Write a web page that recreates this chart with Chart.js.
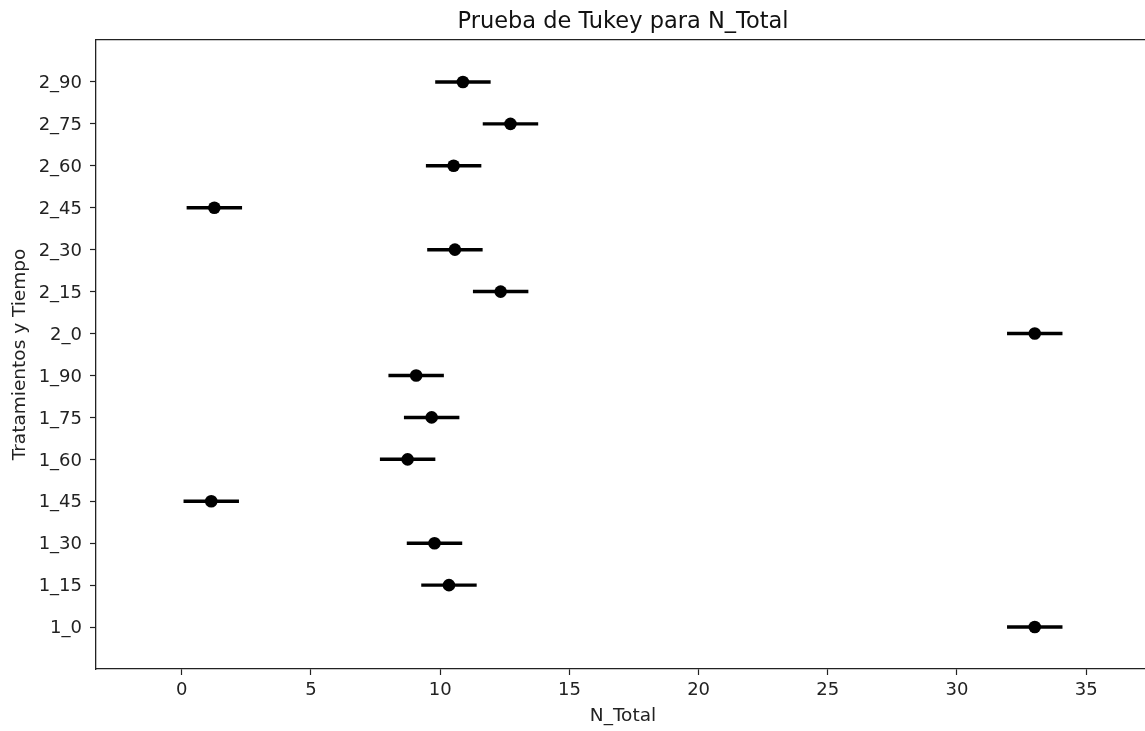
<!DOCTYPE html>
<html><head><meta charset="utf-8">
<script src="https://cdn.jsdelivr.net/npm/chart.js@4/dist/chart.umd.min.js"></script>
<style>html,body{margin:0;padding:0;background:#fff;overflow:hidden}#wrap{width:1150px;height:731px}</style>
</head><body><div id="wrap"><canvas id="c" width="1150" height="731"></canvas></div>
<script>
const categories = ['1_0','1_15','1_30','1_45','1_60','1_75','1_90','2_0','2_15','2_30','2_45','2_60','2_75','2_90'];
const means      = [33.01, 10.34, 9.78, 1.14, 8.74, 9.67, 9.07, 33.01, 12.34, 10.57, 1.26, 10.52, 12.72, 10.88];
const halfWidths = [1.06, 1.06, 1.06, 1.06, 1.06, 1.06, 1.06, 1.06, 1.06, 1.06, 1.06, 1.06, 1.06, 1.06];
const xTicks = [0, 5, 10, 15, 20, 25, 30, 35];
const yTicks = [0, 1, 2, 3, 4, 5, 6, 7, 8, 9, 10, 11, 12, 13];
const xRange = [-3.32, 37.47];
const yRange = [-1, 14];

const FONT = 'DejaVu Sans';
const INK = '#222';

const intervalData = categories.map((c, i) => ({ y: i, x: [means[i] - halfWidths[i], means[i] + halfWidths[i]] }));
const meanData = categories.map((c, i) => ({ x: means[i], y: i }));

new Chart(document.getElementById('c'), {
  type: 'scatter',
  data: {
    datasets: [
      { type: 'scatter', data: meanData, order: 0, pointRadius: 6.3, pointHoverRadius: 6.3,
        backgroundColor: '#000', borderColor: '#000', borderWidth: 0 },
      { type: 'bar', indexAxis: 'y', data: intervalData, order: 1, barThickness: 2.8,
        backgroundColor: '#000', borderWidth: 0, xAxisID: 'x', yAxisID: 'y' }
    ]
  },
  options: {
    responsive: false, animation: false, devicePixelRatio: 1,
    layout: { autoPadding: false, padding: { left: 0, right: 0, top: 0, bottom: 0 } },
    plugins: { legend: { display: false }, tooltip: { enabled: false }, title: { display: false } },
    scales: {
      x: {
        type: 'linear', position: 'bottom', min: xRange[0], max: xRange[1], offset: false,
        afterBuildTicks: s => { s.ticks = xTicks.map(v => ({ value: v })); },
        afterFit: s => { s.height = 62; },
        ticks: { color: INK, font: { family: FONT, size: 18 }, padding: 5, maxRotation: 0, autoSkip: false },
        grid: { display: true, drawOnChartArea: false, drawTicks: true, tickLength: 6, tickColor: INK, tickWidth: 1.2, offset: false },
        border: { display: true, color: INK, width: 1.3 },
        title: { display: true, text: 'N_Total', color: INK, font: { family: FONT, size: 18.5 }, padding: { top: 0, bottom: 3.5 } }
      },
      x2: {
        type: 'linear', position: 'top', min: xRange[0], max: xRange[1], display: true,
        afterFit: s => { s.height = 40; },
        ticks: { display: false },
        grid: { display: false, drawTicks: false },
        border: { display: true, color: INK, width: 1.3 },
        title: { display: true, text: 'Prueba de Tukey para N_Total', color: '#111',
          font: { family: FONT, size: 22.5 }, padding: { top: 8.2, bottom: 0 } }
      },
      y: {
        type: 'linear', position: 'left', min: yRange[0], max: yRange[1], offset: false,
        afterBuildTicks: s => { s.ticks = yTicks.map(v => ({ value: v })); },
        afterFit: s => { s.width = 96; },
        ticks: { color: INK, font: { family: FONT, size: 18 }, padding: 8, autoSkip: false, labelOffset: 1.5,
          callback: v => categories[v] },
        grid: { display: true, drawOnChartArea: false, drawTicks: true, tickLength: 6, tickColor: INK, tickWidth: 1.2, offset: false },
        border: { display: true, color: INK, width: 1.3 },
        title: { display: true, text: 'Tratamientos y Tiempo', color: INK, font: { family: FONT, size: 18.5 }, padding: { top: 8.8, bottom: 0 } }
      }
    }
  }
});
</script>
</body></html>
